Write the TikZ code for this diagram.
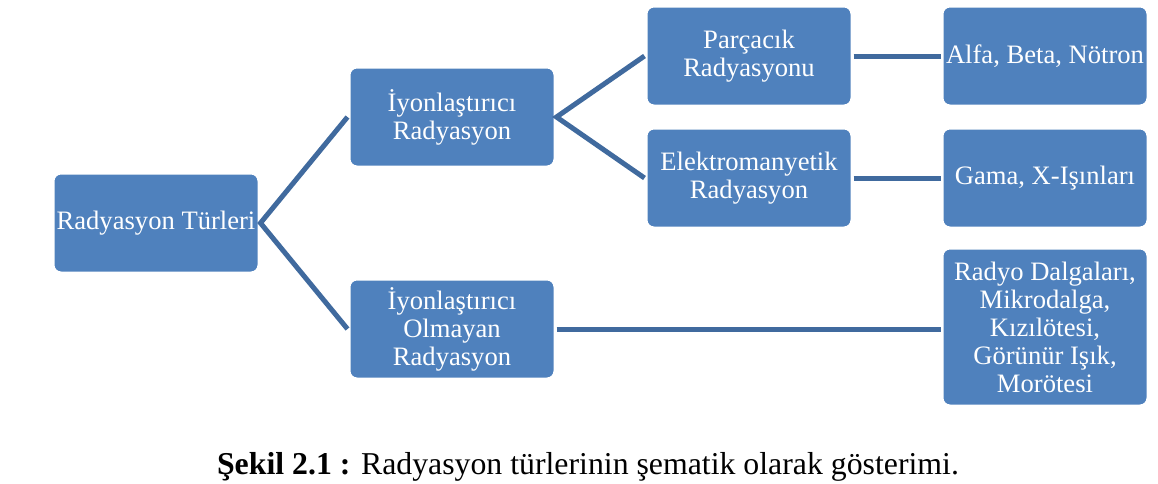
\documentclass[tikz,border=0pt]{standalone}
\usepackage{fontspec}
\setmainfont{Liberation Serif}
\usepackage{tikz}

\definecolor{boxblue}{RGB}{79,129,189}
\definecolor{linkblue}{RGB}{64,106,158}

\begin{document}
\begin{tikzpicture}[x=0.5pt,y=-0.5pt,
  kutu/.style={rectangle,rounded corners=4pt,fill=boxblue,draw=white,
    line width=1.5pt,text=white,align=center,minimum width=103pt,
    minimum height=50pt,inner sep=1pt,
    font=\rmfamily\fontsize{13.3}{14}\selectfont},
  bag/.style={draw=linkblue,line width=2.5pt}]
  \useasboundingbox (0,0) rectangle (1158,483);
  % boxes, columns from left to right
  \node[kutu] (tur) at (156,223) {Radyasyon Türleri};
  \node[kutu] (iyon) at (452,117) {İyonlaştırıcı\\Radyasyon};
  \node[kutu] (noniyon) at (452,329) {İyonlaştırıcı\\Olmayan\\Radyasyon};
  \node[kutu] (parcacik) at (749,56) {Parçacık\\Radyasyonu};
  \node[kutu] (em) at (749,178) {Elektromanyetik\\Radyasyon};
  \node[kutu] (alfa) at (1045,56) {Alfa, Beta, Nötron};
  \node[kutu] (gama) at (1045,178) {Gama, X-Işınları};
  \node[kutu,minimum height=79pt] (radyo) at (1045,327)
    {Radyo Dalgaları,\\Mikrodalga,\\Kızılötesi,\\Görünür Işık,\\Morötesi};
  % connectors
  \draw[bag] (iyon.west) -- (tur.east) -- (noniyon.west);
  \draw[bag] (parcacik.west) -- (iyon.east) -- (em.west);
  \draw[bag] (parcacik.east) -- (alfa.west);
  \draw[bag] (em.east) -- (gama.west);
  \draw[bag] (noniyon.east) -- (noniyon.east -| radyo.west);
  % caption
  \node[anchor=base,font=\fontsize{15.9}{18}\selectfont,inner sep=0pt]
    (baslik) at (588,474)
    {\textbf{Şekil 2.1 :} Radyasyon türlerinin şematik olarak gösterimi.};
\end{tikzpicture}
\end{document}
